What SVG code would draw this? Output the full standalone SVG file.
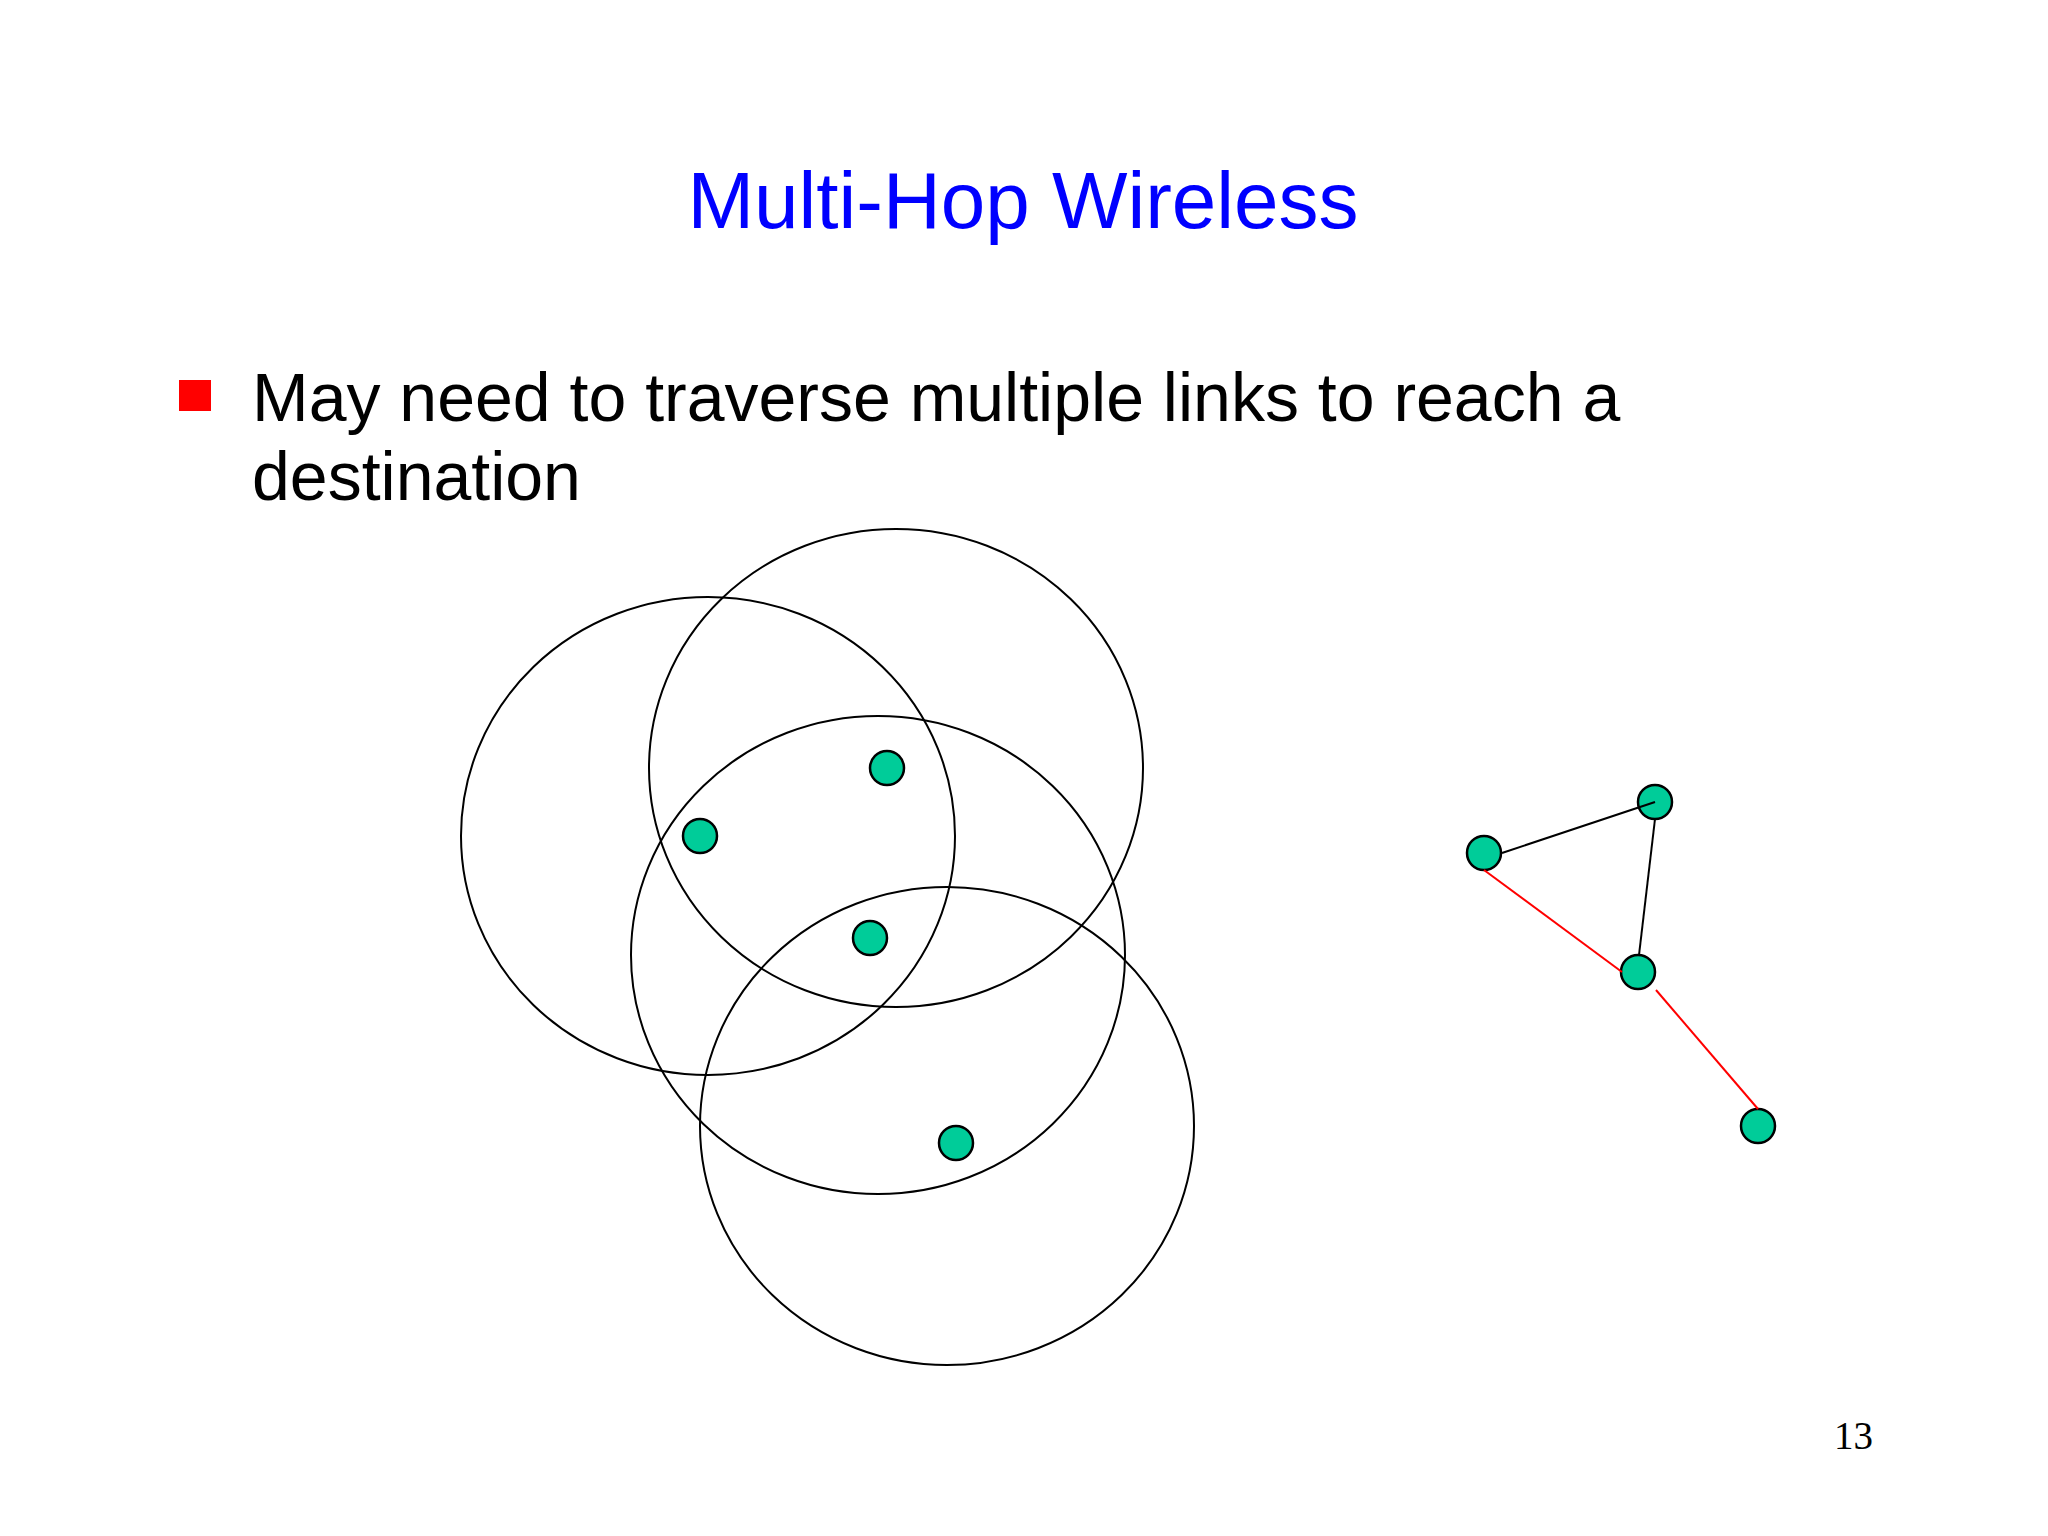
<svg xmlns="http://www.w3.org/2000/svg" width="2048" height="1536" viewBox="0 0 2048 1536">
<style>
.range{fill:none;stroke:#000;stroke-width:2}
.dot{fill:#00cc99;stroke:#000;stroke-width:2.5}
.link{stroke-width:2;fill:none}
.txt{font-family:"Liberation Sans",Arial,sans-serif}
</style>
<rect width="2048" height="1536" fill="#fff"/>
<text class="txt" x="1023" y="228" font-size="80" fill="#0000ff" text-anchor="middle">Multi-Hop Wireless</text>
<rect x="179" y="380" width="32" height="31" fill="#ff0000"/>
<text class="txt" x="252" y="421" font-size="68" fill="#000">May need to traverse multiple links to reach a</text>
<text class="txt" x="252" y="500" font-size="68" fill="#000">destination</text>
<g id="ranges">
<ellipse class="range" cx="708" cy="836" rx="247" ry="239"/>
<ellipse class="range" cx="896" cy="768" rx="247" ry="239"/>
<ellipse class="range" cx="878" cy="955" rx="247" ry="239"/>
<ellipse class="range" cx="947" cy="1126" rx="247" ry="239"/>
</g>
<g id="n1"><circle class="dot" cx="887" cy="768" r="17"/></g>
<g id="n2"><circle class="dot" cx="700" cy="836" r="17"/></g>
<g id="n3"><circle class="dot" cx="870" cy="938" r="17"/></g>
<g id="n4"><circle class="dot" cx="956" cy="1143" r="17"/></g>
<g id="gA"><circle class="dot" cx="1655" cy="802" r="17"/></g>
<g id="gB"><circle class="dot" cx="1484" cy="853" r="17"/></g>
<g id="gC"><circle class="dot" cx="1638" cy="972" r="17"/></g>
<g id="gD"><circle class="dot" cx="1758" cy="1126" r="17"/></g>
<g id="connectors">
<line class="link" stroke="#000" x1="1502" y1="853" x2="1655" y2="802"/>
<line class="link" stroke="#000" x1="1655" y1="819" x2="1639" y2="955"/>
<line class="link" stroke="#ff0000" x1="1484" y1="870" x2="1622" y2="972"/>
<line class="link" stroke="#ff0000" x1="1656" y1="990" x2="1758" y2="1109"/>
</g>
<text x="1834" y="1449" font-size="39" font-family="'Liberation Serif','Times New Roman',serif" fill="#000">13</text>
</svg>
